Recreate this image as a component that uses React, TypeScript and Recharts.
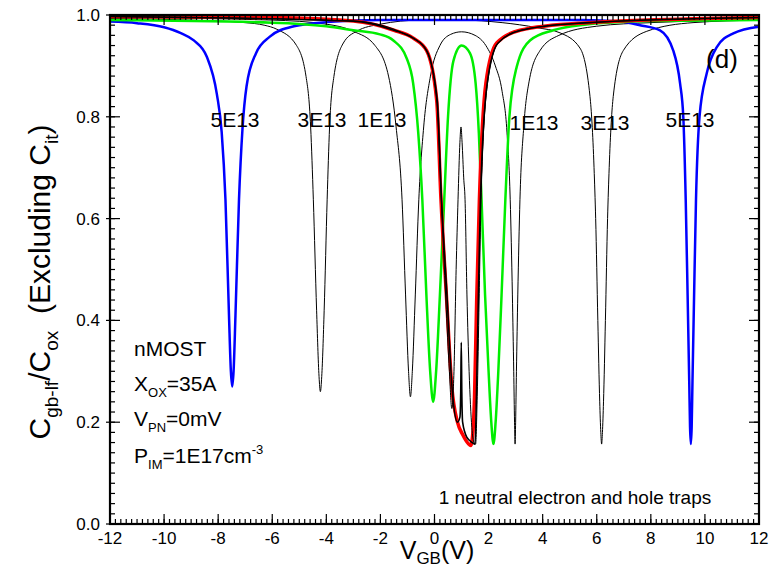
import { LineChart, Line, XAxis, YAxis } from 'recharts';

const FONT = '"Liberation Sans", Arial, sans-serif';

// 5E13 trap density (blue)
const blueX = [-12, -11, -10, -9.4, -8.9, -8.42, -8.05, -7.87, -7.73, -7.6, -7.53, -7.48, -7.43, -7.36, -7.23, -7.1, -6.95, -6.6, -6.1, -5.2, -4, -2, 0, 2, 4, 5.5, 6.86, 7.6, 8.34, 8.83, 9.08, 9.2, 9.29, 9.36, 9.42, 9.45, 9.48, 9.51, 9.54, 9.6, 9.67, 9.8, 10.07, 10.44, 11.05, 12];
const blueY = [0.987, 0.984, 0.976, 0.965, 0.95, 0.918, 0.845, 0.77, 0.637, 0.41, 0.3, 0.27, 0.3, 0.41, 0.637, 0.777, 0.86, 0.925, 0.957, 0.978, 0.986, 0.99, 0.99, 0.99, 0.99, 0.99, 0.987, 0.98, 0.97, 0.93, 0.866, 0.8, 0.637, 0.45, 0.28, 0.19, 0.157, 0.19, 0.28, 0.45, 0.637, 0.8, 0.886, 0.937, 0.964, 0.977];

// 3E13 (thin black)
const t3X = [-12, -9, -7, -6.3, -5.83, -5.1, -4.75, -4.58, -4.48, -4.36, -4.27, -4.22, -4.17, -4.08, -3.97, -3.88, -3.72, -3.37, -2.88, -2, -0.5, 1, 2.5, 3.8, 4.64, 5.38, 5.75, 5.9, 5.96, 6.04, 6.11, 6.15, 6.18, 6.21, 6.25, 6.32, 6.4, 6.46, 6.61, 6.98, 7.85, 9.56, 12];
const t3Y = [0.993, 0.99, 0.985, 0.98, 0.972, 0.94, 0.879, 0.78, 0.637, 0.42, 0.29, 0.26, 0.29, 0.42, 0.637, 0.78, 0.879, 0.945, 0.968, 0.982, 0.99, 0.99, 0.985, 0.975, 0.965, 0.935, 0.84, 0.7, 0.6, 0.4, 0.24, 0.18, 0.157, 0.18, 0.24, 0.4, 0.6, 0.7, 0.84, 0.93, 0.968, 0.985, 0.99];

// 1E13 (thin black)
const t1X = [-12, -6, -4, -3, -2.2, -1.7, -1.42, -1.2, -1.07, -0.96, -0.89, -0.82, -0.71, -0.58, -0.4, -0.15, 0.2, 0.6, 1.0, 1.5, 1.9, 2.25, 2.5, 2.68, 2.8, 2.88, 2.93, 2.96, 2.98, 3.0, 3.03, 3.08, 3.16, 3.3, 3.5, 3.9, 4.6, 6, 8, 12];
const t1Y = [0.995, 0.99, 0.982, 0.968, 0.94, 0.88, 0.78, 0.637, 0.45, 0.3, 0.25, 0.3, 0.45, 0.637, 0.78, 0.88, 0.94, 0.962, 0.967, 0.96, 0.94, 0.9, 0.85, 0.77, 0.637, 0.45, 0.3, 0.2, 0.157, 0.2, 0.3, 0.45, 0.637, 0.78, 0.87, 0.93, 0.96, 0.978, 0.985, 0.99];

// green
const greenX = [-12, -6, -4, -3, -2.02, -1.52, -1.03, -0.79, -0.6, -0.45, -0.3, -0.16, -0.05, 0.06, 0.2, 0.36, 0.5, 0.7, 1.0, 1.31, 1.52, 1.64, 1.74, 1.87, 2.0, 2.1, 2.18, 2.26, 2.36, 2.48, 2.62, 2.77, 3.04, 3.53, 4.39, 5.38, 8, 12];
const greenY = [0.99, 0.985, 0.978, 0.97, 0.962, 0.95, 0.915, 0.866, 0.768, 0.637, 0.45, 0.3, 0.24, 0.3, 0.45, 0.637, 0.8, 0.91, 0.94, 0.925, 0.866, 0.768, 0.637, 0.45, 0.3, 0.2, 0.157, 0.2, 0.3, 0.45, 0.637, 0.8, 0.898, 0.95, 0.97, 0.98, 0.988, 0.99];

// red
const redX = [-12, -6, -3, -1.5, -0.8, -0.29, 0.08, 0.24, 0.45, 0.64, 0.85, 1.05, 1.25, 1.34, 1.42, 1.48, 1.56, 1.66, 1.9, 2.3, 3.16, 5.4, 12];
const redY = [0.997, 0.995, 0.988, 0.97, 0.955, 0.93, 0.833, 0.637, 0.44, 0.27, 0.2, 0.175, 0.158, 0.154, 0.18, 0.25, 0.44, 0.637, 0.866, 0.945, 0.97, 0.984, 0.995];

// black with tall hump
const humpX = [-12, -3, -1, -0.3, 0.08, 0.25, 0.42, 0.55, 0.64, 0.72, 0.8, 0.87, 0.94, 0.98, 1.02, 1.08, 1.13, 1.2, 1.28, 1.38, 1.46, 1.52, 1.58, 1.65, 1.72, 1.96, 2.35, 3.2, 5.4, 12];
const humpY = [0.997, 0.988, 0.96, 0.93, 0.833, 0.637, 0.44, 0.3, 0.227, 0.3, 0.5, 0.637, 0.75, 0.78, 0.75, 0.68, 0.637, 0.45, 0.3, 0.19, 0.16, 0.157, 0.25, 0.44, 0.637, 0.866, 0.945, 0.97, 0.984, 0.995];

// thick black with spike
const spikeX = [-12, -3, -1.5, -0.8, -0.29, 0.1, 0.26, 0.47, 0.66, 0.85, 0.94, 0.97, 0.99, 1.01, 1.04, 1.2, 1.4, 1.5, 1.55, 1.62, 1.7, 1.95, 2.35, 3.2, 5.4, 12];
const spikeY = [0.997, 0.988, 0.97, 0.955, 0.93, 0.833, 0.637, 0.44, 0.26, 0.2, 0.21, 0.26, 0.357, 0.26, 0.2, 0.17, 0.16, 0.157, 0.25, 0.44, 0.637, 0.866, 0.945, 0.97, 0.984, 0.995];

const xMajor = [-12, -10, -8, -6, -4, -2, 0, 2, 4, 6, 8, 10, 12];
const yMajor = [0, 0.2, 0.4, 0.6, 0.8, 1.0];
const xMinor = Array.from({ length: 121 }, (_, i) => -12 + i * 0.2);
const yMinor = Array.from({ length: 51 }, (_, i) => i / 50);

const pts = (xs: number[], ys: number[]) => xs.map((x, i) => ({ x, y: ys[i] }));

const series = [
  { name: '3E13', data: pts(t3X, t3Y), color: '#000', w: 1 },
  { name: '1E13', data: pts(t1X, t1Y), color: '#000', w: 1 },
  { name: '5E13', data: pts(blueX, blueY), color: '#0000ff', w: 2.5 },
  { name: 'green', data: pts(greenX, greenY), color: '#00ee00', w: 2.5 },
  { name: 'red', data: pts(redX, redY), color: '#ff0000', w: 3.5 },
  { name: 'hump', data: pts(humpX, humpY), color: '#000', w: 1 },
  { name: 'spike', data: pts(spikeX, spikeY), color: '#000', w: 1.6 },
];

// plot box, matches the chart margins + axis sizes below
const L = 110, T = 15, R = 759, B = 524;
const px = (v: number) => L + ((v + 12) / 24) * (R - L);
const py = (v: number) => B - v * (B - T);

const tickFont = { fill: '#000', fontSize: 17, fontFamily: FONT };

// inward ticks on all four sides, like the original frame
const Frame = () => (
  <g stroke="#000" strokeWidth={1.2}>
    {xMinor.map((v) => (
      <g key={'x' + v}>
        <line x1={px(v)} x2={px(v)} y1={B} y2={B - 5} />
        <line x1={px(v)} x2={px(v)} y1={T} y2={T + 5} />
      </g>
    ))}
    {xMajor.map((v) => (
      <g key={'X' + v}>
        <line x1={px(v)} x2={px(v)} y1={B} y2={B - 10} />
        <line x1={px(v)} x2={px(v)} y1={T} y2={T + 10} />
      </g>
    ))}
    {yMinor.map((v) => (
      <g key={'y' + v}>
        <line x1={L} x2={L + 5} y1={py(v)} y2={py(v)} />
        <line x1={R} x2={R - 5} y1={py(v)} y2={py(v)} />
      </g>
    ))}
    {yMajor.map((v) => (
      <g key={'Y' + v}>
        <line x1={L - 4} x2={L + 10} y1={py(v)} y2={py(v)} />
        <line x1={R} x2={R - 10} y1={py(v)} y2={py(v)} />
      </g>
    ))}
    <rect x={L} y={T} width={R - L} height={B - T} fill="none" strokeWidth={2.2} />
  </g>
);

export default function App() {
  return (
    <div style={{ position: 'relative', width: 778, height: 570, margin: '-8px -8px 0 -8px', background: '#fff' }}>
      <LineChart width={778} height={570} margin={{ top: T, right: 778 - R, bottom: 570 - B - 30, left: L - 60 }}>
        <XAxis xAxisId="x" dataKey="x" type="number" domain={[-12, 12]} ticks={xMajor} interval={0}
          allowDataOverflow tickLine={false} axisLine={false} tick={tickFont} tickSize={2} tickMargin={6} height={30} />
        <YAxis yAxisId="y" type="number" domain={[0, 1]} ticks={yMajor} interval={0} allowDataOverflow
          tickFormatter={(v: number) => v.toFixed(1)} tickLine={false} axisLine={false} tick={tickFont}
          tickSize={6} tickMargin={4} width={60} />
        {series.map((s) => (
          <Line key={s.name} xAxisId="x" yAxisId="y" data={s.data} dataKey="y" type="monotone"
            stroke={s.color} strokeWidth={s.w} dot={false} isAnimationActive={false} />
        ))}
      </LineChart>
      <svg width={778} height={570} style={{ position: 'absolute', left: 0, top: 0, pointerEvents: 'none' }}
        fontFamily={FONT} fill="#000">
        <Frame />
        <text fontSize={21} textAnchor="middle">
          <tspan x={235} y={127}>5E13</tspan>
          <tspan x={322} y={127}>3E13</tspan>
          <tspan x={382} y={127}>1E13</tspan>
          <tspan x={534} y={130}>1E13</tspan>
          <tspan x={605} y={130}>3E13</tspan>
          <tspan x={690} y={127}>5E13</tspan>
        </text>
        <text x={722} y={68} fontSize={26} textAnchor="middle">(d)</text>
        <text x={134} y={356} fontSize={21}>nMOST</text>
        <text x={134} y={391} fontSize={21}>X<tspan fontSize={13} dy={6}>OX</tspan><tspan dy={-6}>=35A</tspan></text>
        <text x={134} y={426} fontSize={21}>V<tspan fontSize={13} dy={6}>PN</tspan><tspan dy={-6}>=0mV</tspan></text>
        <text x={134} y={463} fontSize={21}>P<tspan fontSize={13} dy={6}>IM</tspan><tspan dy={-6}>=1E17cm</tspan><tspan fontSize={13} dy={-9}>-3</tspan></text>
        <text x={575} y={504} fontSize={19} textAnchor="middle">1 neutral electron and hole traps</text>
        <text x={437} y={559} fontSize={25} textAnchor="middle">V<tspan fontSize={17} dy={5}>GB</tspan><tspan dy={-5}>(V)</tspan></text>
        <text transform="translate(50,282) rotate(-90)" fontSize={30} textAnchor="middle">
          C<tspan fontSize={19} dy={8}>gb-lf</tspan><tspan dy={-8}>/C</tspan><tspan fontSize={19} dy={8}>ox</tspan><tspan dy={-8} xmlSpace="preserve">  (Excluding C</tspan><tspan fontSize={19} dy={8}>it</tspan><tspan dy={-8}>)</tspan>
        </text>
      </svg>
    </div>
  );
}
